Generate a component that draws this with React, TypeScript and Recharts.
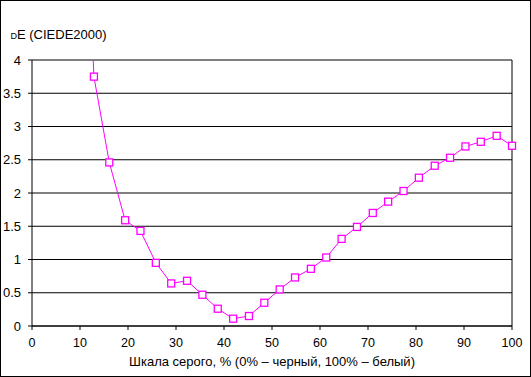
import React from 'react';
import { LineChart, Line, XAxis, YAxis, CartesianGrid, ReferenceLine } from 'recharts';

const grayPercent = [
  0, 3.2, 6.5, 9.7, 12.9, 16.1, 19.4, 22.6, 25.8, 29.0, 32.3, 35.5, 38.7, 41.9, 45.2, 48.4,
  51.6, 54.8, 58.1, 61.3, 64.5, 67.7, 71.0, 74.2, 77.4, 80.6, 83.9, 87.1, 90.3, 93.5, 96.8, 100,
];
const deltaE = [
  14, 12.5, 11, 9.2, 3.75, 2.46, 1.59, 1.43, 0.95, 0.64, 0.68, 0.47, 0.26, 0.11, 0.15, 0.35,
  0.55, 0.73, 0.86, 1.03, 1.31, 1.49, 1.7, 1.87, 2.03, 2.23, 2.41, 2.53, 2.7, 2.77, 2.86, 2.71,
];
const xTicks = [0, 10, 20, 30, 40, 50, 60, 70, 80, 90, 100];
const yTicks = [0, 0.5, 1, 1.5, 2, 2.5, 3, 3.5, 4];
const xTitle = 'Шкала серого, % (0% – черный, 100% – белый)';
const yTitleRest = 'E (CIEDE2000)';

const data = grayPercent.map((x, i) => ({ x, de: deltaE[i] }));

const FONT = '"Liberation Sans", Arial, sans-serif';
const MAGENTA = '#FF00FF';

const SquareDot = (props: any) => {
  const { cx, cy, payload, index } = props;
  if (payload == null || payload.de > 4 || cx == null || cy == null) return <g key={`d${index}`} />;
  return (
    <rect
      key={`d${index}`}
      x={cx - 3.5}
      y={cy - 3.5}
      width={7}
      height={7}
      fill="#fff"
      stroke={MAGENTA}
      strokeWidth={1.3}
    />
  );
};

export default function App() {
  return (
    <div style={{ position: 'absolute', left: 0, top: 0, width: 531, height: 377, background: '#fff' }}>
      <LineChart
        width={531}
        height={377}
        data={data}
        margin={{ top: 60, right: 19, left: 0, bottom: 11 }}
        style={{ fontFamily: FONT }}
      >
        <rect x={0.5} y={0.5} width={530} height={376} fill="none" stroke="#000" strokeWidth={1} />
        <text x={10.5} y={39} fontFamily={FONT} fontSize={13} fill="#000">
          <tspan style={{ fontVariant: 'small-caps' }}>d</tspan>
          {yTitleRest}
        </text>
        <CartesianGrid vertical={false} stroke="#000" strokeWidth={1} />
        <XAxis
          dataKey="x"
          type="number"
          domain={[0, 100]}
          ticks={xTicks}
          interval={0}
          height={40}
          tickSize={4}
          tickMargin={8}
          axisLine={{ stroke: '#000' }}
          tickLine={{ stroke: '#000' }}
          tick={{ fill: '#000', fontSize: 12.5, fontFamily: FONT }}
          label={{ value: xTitle, position: 'insideBottom', offset: 0, fill: '#000', fontSize: 13, fontFamily: FONT }}
        />
        <YAxis
          type="number"
          domain={[0, 4]}
          ticks={yTicks}
          interval={0}
          allowDataOverflow
          width={32}
          tickSize={4}
          tickMargin={7}
          axisLine={{ stroke: '#000' }}
          tickLine={{ stroke: '#000' }}
          tick={{ fill: '#000', fontSize: 13, fontFamily: FONT }}
        />
        <ReferenceLine x={100} stroke="#000" strokeWidth={1} ifOverflow="extendDomain" />
        <Line
          dataKey="de"
          type="linear"
          stroke={MAGENTA}
          strokeWidth={1}
          dot={SquareDot}
          activeDot={false}
          isAnimationActive={false}
        />
      </LineChart>
    </div>
  );
}
